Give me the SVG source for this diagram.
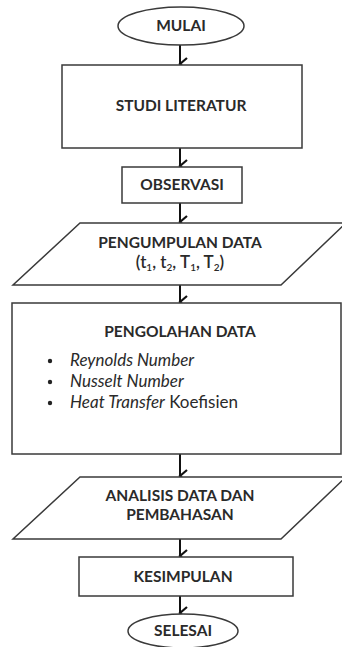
<svg xmlns="http://www.w3.org/2000/svg" width="342" height="647" viewBox="0 0 342 647">
<defs>
<style>
.s{fill:#fff;stroke:#3a3a3a;stroke-width:1.5}
.t{font-family:Lato,"Open Sans",sans-serif;font-weight:bold;font-size:15.5px;fill:#2a2a2a;text-anchor:middle}
.i{font-family:Lato,"Open Sans",sans-serif;font-size:17px;fill:#2a2a2a}
.c{stroke:#111;stroke-width:2;fill:none}
</style>
<marker id="ah" markerUnits="userSpaceOnUse" markerWidth="14" markerHeight="10" refX="7" refY="8" orient="auto-start-reverse" viewBox="0 0 14 10">
<path d="M1,1 L7,8 L13,1" fill="none" stroke="#111" stroke-width="2.2"/>
</marker>
</defs>
<rect width="342" height="647" fill="#fff"/>
<g id="connectors">
<line class="c" x1="180" y1="45" x2="180" y2="64" marker-end="url(#ah)"/>
<line class="c" x1="180" y1="148" x2="180" y2="166" marker-end="url(#ah)"/>
<line class="c" x1="180" y1="203" x2="180" y2="222" marker-end="url(#ah)"/>
<line class="c" x1="180" y1="285" x2="180" y2="302" marker-end="url(#ah)"/>
<line class="c" x1="180" y1="454" x2="180" y2="476" marker-end="url(#ah)"/>
<line class="c" x1="180" y1="539" x2="180" y2="556" marker-end="url(#ah)"/>
<line class="c" x1="180" y1="596" x2="180" y2="613" marker-end="url(#ah)"/>
</g>
<g id="mulai">
<ellipse class="s" cx="181" cy="26" rx="63" ry="19"/>
<text class="t" x="181" y="31">MULAI</text>
</g>
<g id="studi">
<rect class="s" x="62" y="65" width="240" height="83"/>
<text class="t" x="181" y="111">STUDI LITERATUR</text>
</g>
<g id="observasi">
<rect class="s" x="122" y="167" width="120" height="36"/>
<text class="t" x="182" y="190">OBSERVASI</text>
</g>
<g id="pengumpulan">
<polygon class="s" points="80,223 346,223 281,285 13,285"/>
<text class="t" x="180" y="248">PENGUMPULAN DATA</text>
<text class="t" x="180" y="268" style="font-weight:600;font-size:17px">(t<tspan font-size="10" dy="3">1</tspan><tspan dy="-3">, t</tspan><tspan font-size="10" dy="3">2</tspan><tspan dy="-3">, T</tspan><tspan font-size="10" dy="3">1</tspan><tspan dy="-3">, T</tspan><tspan font-size="10" dy="3">2</tspan><tspan dy="-3">)</tspan></text>
</g>
<g id="pengolahan">
<rect class="s" x="12" y="303" width="329" height="151"/>
<text class="t" x="180" y="337">PENGOLAHAN DATA</text>
<circle cx="50" cy="361" r="2.2" fill="#222"/>
<circle cx="50" cy="382" r="2.2" fill="#222"/>
<circle cx="50" cy="403" r="2.2" fill="#222"/>
<text class="i" x="70" y="366" font-style="italic">Reynolds Number</text>
<text class="i" x="70" y="387" font-style="italic">Nusselt Number</text>
<text class="i" x="70" y="408"><tspan font-style="italic">Heat Transfer</tspan> Koefisien</text>
</g>
<g id="analisis">
<polygon class="s" points="80,477 346,477 281,539 13,539"/>
<text class="t" x="180" y="501">ANALISIS DATA DAN</text>
<text class="t" x="180" y="520">PEMBAHASAN</text>
</g>
<g id="kesimpulan">
<rect class="s" x="79" y="557" width="214" height="39"/>
<text class="t" x="183" y="582">KESIMPULAN</text>
</g>
<g id="selesai">
<ellipse class="s" cx="183" cy="631" rx="55" ry="17"/>
<text class="t" x="183" y="636">SELESAI</text>
</g>
</svg>
